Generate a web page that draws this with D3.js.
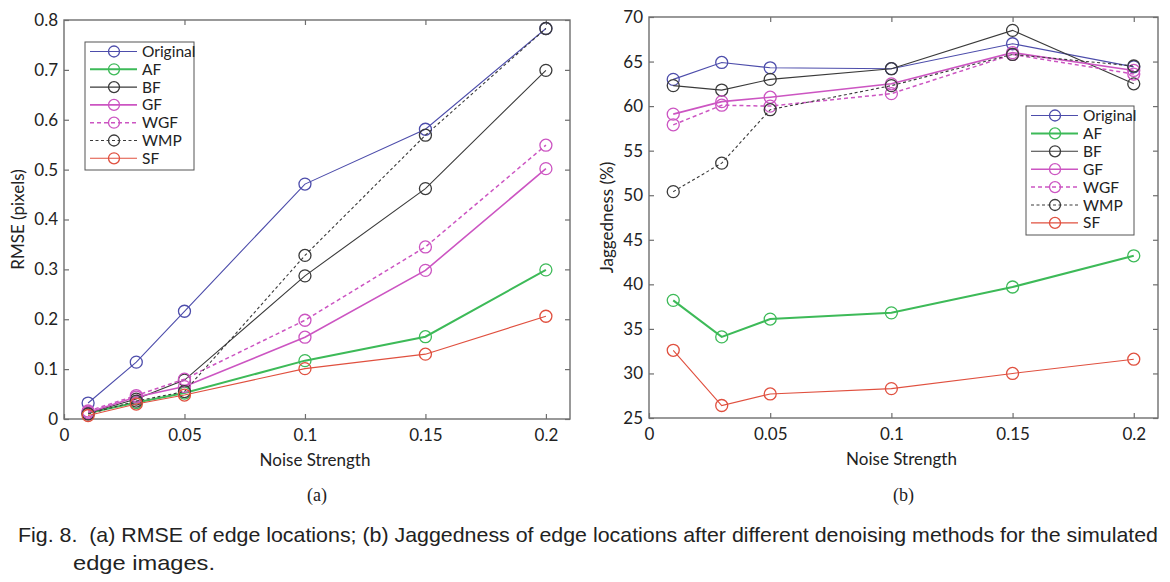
<!DOCTYPE html>
<html><head><meta charset="utf-8">
<script src="https://cdn.jsdelivr.net/npm/d3@7"></script>
<style>body{margin:0;background:#fff}svg{display:block}</style>
</head><body>
<svg id="c" width="1170" height="582"></svg>
<script>
const noise = [0.01, 0.03, 0.05, 0.1, 0.15, 0.2];
const methods = ["Original", "AF", "BF", "GF", "WGF", "WMP", "SF"];
const rmseOriginal = [0.032, 0.114, 0.216, 0.471, 0.581, 0.783];
const rmseAF = [0.012, 0.033, 0.052, 0.117, 0.165, 0.299];
const rmseBF = [0.012, 0.040, 0.078, 0.287, 0.462, 0.699];
const rmseGF = [0.013, 0.044, 0.065, 0.164, 0.298, 0.502];
const rmseWGF = [0.016, 0.047, 0.080, 0.198, 0.345, 0.549];
const rmseWMP = [0.010, 0.036, 0.055, 0.328, 0.569, 0.783];
const rmseSF = [0.007, 0.030, 0.048, 0.101, 0.130, 0.206];
const jagOriginal = [63.0, 64.9, 64.3, 64.2, 67.0, 64.4];
const jagAF = [38.2, 34.1, 36.1, 36.8, 39.7, 43.2];
const jagBF = [62.3, 61.8, 63.0, 64.2, 68.5, 62.5];
const jagGF = [59.1, 60.5, 61.0, 62.5, 66.0, 64.0];
const jagWGF = [57.9, 60.1, 60.0, 61.4, 65.8, 63.6];
const jagWMP = [50.4, 53.6, 59.6, 62.3, 65.8, 64.5];
const jagSF = [32.6, 26.4, 27.7, 28.3, 30.0, 31.6];
const xTicks = [0, 0.05, 0.1, 0.15, 0.2];
const rmseTicks = [0, 0.1, 0.2, 0.3, 0.4, 0.5, 0.6, 0.7, 0.8];
const jagTicks = [25, 30, 35, 40, 45, 50, 55, 60, 65, 70];

const styles = {
  Original: {color: "#4d4dab", dash: null, w: 1.1},
  AF: {color: "#3dba58", dash: null, w: 2},
  BF: {color: "#3a3a3a", dash: null, w: 1.1},
  GF: {color: "#cc55c2", dash: null, w: 1.6},
  WGF: {color: "#cc55c2", dash: "4,3", w: 1.5},
  WMP: {color: "#3a3a3a", dash: "3,2.5", w: 1.1},
  SF: {color: "#e0503f", dash: null, w: 1.1}
};
const rmseSeries = {Original: rmseOriginal, AF: rmseAF, BF: rmseBF, GF: rmseGF, WGF: rmseWGF, WMP: rmseWMP, SF: rmseSF};
const jagSeries = {Original: jagOriginal, AF: jagAF, BF: jagBF, GF: jagGF, WGF: jagWGF, WMP: jagWMP, SF: jagSF};

const svg = d3.select("#c");
const FONT = "Lato, 'Open Sans', sans-serif";
const axisColor = "#6e6e6e";

function panel(o) {
  const g = svg.append("g");
  const x = d3.scaleLinear().domain([0, 0.21]).range([o.left, o.right]);
  const y = d3.scaleLinear().domain(o.ydom).range([o.bottom, o.top]);
  const tick = 5;
  const ax = g.append("g").attr("transform", `translate(0,${o.bottom})`)
    .call(d3.axisBottom(x).tickValues(xTicks).tickSizeInner(-tick).tickSizeOuter(0).tickPadding(10).tickFormat(d => d === 0 ? "0" : String(d)));
  const axT = g.append("g").attr("transform", `translate(0,${o.top})`)
    .call(d3.axisTop(x).tickValues(xTicks.filter(d => d > 0)).tickSizeInner(-tick).tickSizeOuter(0).tickFormat(""));
  const ay = g.append("g").attr("transform", `translate(${o.left},0)`)
    .call(d3.axisLeft(y).tickValues(o.yticks).tickSizeInner(-tick).tickSizeOuter(0).tickPadding(6).tickFormat(o.yfmt));
  const ayR = g.append("g").attr("transform", `translate(${o.right},0)`)
    .call(d3.axisRight(y).tickValues(o.yticks).tickSizeInner(-tick).tickSizeOuter(0).tickFormat(""));
  [ax, axT, ay, ayR].forEach(a => {
    a.select(".domain").remove();
    a.selectAll("line").attr("stroke", axisColor).attr("stroke-width", 1.2);
    a.selectAll("text").attr("font-family", FONT).attr("font-size", 17).attr("fill", "#222");
  });
  g.append("rect").attr("x", o.left).attr("y", o.top).attr("width", o.right - o.left).attr("height", o.bottom - o.top)
    .attr("fill", "none").attr("stroke", axisColor).attr("stroke-width", 1.4);
  const line = d3.line().x((d, i) => x(noise[i])).y(d => y(d));
  methods.forEach(m => {
    const s = styles[m], vals = o.series[m];
    g.append("path").datum(vals).attr("d", line).attr("fill", "none")
      .attr("stroke", s.color).attr("stroke-width", s.w).attr("stroke-dasharray", s.dash);
    g.selectAll(null).data(vals).enter().append("circle")
      .attr("cx", (d, i) => x(noise[i])).attr("cy", d => y(d)).attr("r", 6)
      .attr("fill", "none").attr("stroke", s.color).attr("stroke-width", 1.3);
  });
  g.append("text").attr("x", (o.left + o.right) / 2 - 2).attr("y", o.bottom + 47).attr("text-anchor", "middle")
    .attr("font-family", FONT).attr("font-size", 17).attr("fill", "#222").text("Noise Strength");
  g.append("text").attr("transform", `translate(${o.ylabX},${(o.top + o.bottom) / 2}) rotate(-90)`).attr("text-anchor", "middle")
    .attr("font-family", FONT).attr("font-size", 17).attr("fill", "#222").text(o.ylabel);
  g.append("text").attr("x", (o.left + o.right) / 2).attr("y", 501).attr("text-anchor", "middle")
    .attr("font-family", "'Liberation Serif', serif").attr("font-size", 18).attr("fill", "#222").text(o.sub);
  const L = o.legend;
  g.append("rect").attr("x", L.x).attr("y", L.y).attr("width", L.w).attr("height", L.h)
    .attr("fill", "#fff").attr("stroke", "#555").attr("stroke-width", 1);
  methods.forEach((m, i) => {
    const s = styles[m], cy = L.y + 9.5 + i * L.dy;
    g.append("line").attr("x1", L.x + 5).attr("x2", L.x + 52).attr("y1", cy).attr("y2", cy)
      .attr("stroke", s.color).attr("stroke-width", s.w).attr("stroke-dasharray", s.dash);
    g.append("circle").attr("cx", L.x + 29).attr("cy", cy).attr("r", 5.5).attr("fill", "none")
      .attr("stroke", s.color).attr("stroke-width", 1.3);
    g.append("text").attr("x", L.x + 57).attr("y", cy + 5.5).attr("font-family", FONT).attr("font-size", 15.5)
      .attr("fill", "#222").text(m);
  });
}

panel({left: 64, right: 570, top: 20, bottom: 419, ydom: [0, 0.8], yticks: rmseTicks,
  yfmt: d => d === 0 ? "0" : d3.format(".1f")(d), series: rmseSeries, ylabel: "RMSE (pixels)", ylabX: 24, sub: "(a)",
  legend: {x: 85, y: 42, w: 109, h: 128, dy: 17.8}});
panel({left: 649, right: 1158, top: 17, bottom: 418, ydom: [25, 70], yticks: jagTicks,
  yfmt: d => String(d), series: jagSeries, ylabel: "Jaggedness (%)", ylabX: 613, sub: "(b)",
  legend: {x: 1026, y: 106, w: 108, h: 129, dy: 17.9}});

svg.append("text").attr("x", 18).attr("y", 542).attr("font-family", "'Liberation Sans', Arial, sans-serif")
  .attr("font-size", 21).attr("fill", "#222").attr("textLength", 1140).attr("lengthAdjust", "spacingAndGlyphs")
  .attr("xml:space", "preserve")
  .text("Fig. 8.  (a) RMSE of edge locations; (b) Jaggedness of edge locations after different denoising methods for the simulated");
svg.append("text").attr("x", 73).attr("y", 570).attr("font-family", "'Liberation Sans', Arial, sans-serif")
  .attr("font-size", 21).attr("fill", "#222").attr("textLength", 142).attr("lengthAdjust", "spacingAndGlyphs")
  .text("edge images.");
</script>
</body></html>
